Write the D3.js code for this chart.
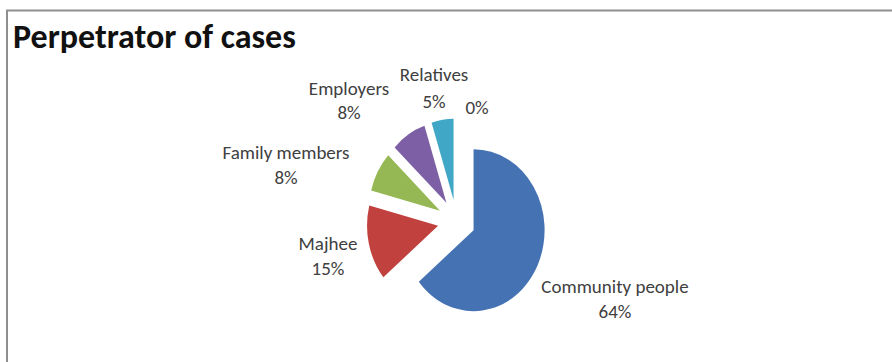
<!DOCTYPE html>
<html>
<head>
<meta charset="utf-8">
<script src="https://cdn.jsdelivr.net/npm/d3@7"></script>
<style>
  html, body { margin: 0; padding: 0; background: #fff; }
  svg { display: block; }
  text { font-family: Carlito, Calibri, Lato, "Open Sans", sans-serif; }
</style>
</head>
<body>
<svg id="chart" width="892" height="362"></svg>
<script>
// Who the perpetrators were, as a share of all cases (%)
const categories = ["Community people", "Majhee", "Family members", "Employers", "Relatives", ""];
const shares = [64, 15, 8, 8, 5, 0];
const sliceColors = ["#4572B3", "#C0413D", "#95B854", "#7D5FA5", "#40A8C6", "#F79646"];
const chartTitle = "Perpetrator of cases";

const W = 892, H = 362;
const svg = d3.select("#chart");

// frame of the chart area
svg.append("rect").attr("x", 0).attr("y", 0).attr("width", W).attr("height", H).attr("fill", "#fff");
svg.append("line").attr("x1", 6).attr("x2", W).attr("y1", 10.5).attr("y2", 10.5)
  .attr("stroke", "#8f8f8f").attr("stroke-width", 2);
svg.append("line").attr("x1", 7).attr("x2", 7).attr("y1", 10).attr("y2", H)
  .attr("stroke", "#8f8f8f").attr("stroke-width", 2);

// title
svg.append("text")
  .attr("x", 13).attr("y", 48)
  .attr("font-size", 34).attr("font-weight", "bold").attr("fill", "#111")
  .text(chartTitle);

// exploded pie, slightly narrower than tall
const cx = 456.5, cy = 221, R = 81, explode = 21.5, xScale = 0.877;
const data = categories.map((c, i) => ({ name: c, value: shares[i], color: sliceColors[i] }));
const pie = d3.pie().sort(null).value(d => d.value).startAngle(0).endAngle(2 * Math.PI);
const arcs = pie(data);
const arc = d3.arc().innerRadius(0).outerRadius(R);

const g = svg.append("g").attr("transform", `translate(${cx},${cy}) scale(${xScale},1)`);
g.selectAll("path")
  .data(arcs.filter(a => a.data.value > 0))
  .join("path")
  .attr("d", arc)
  .attr("fill", d => d.data.color)
  .attr("transform", d => {
    const mid = (d.startAngle + d.endAngle) / 2;
    return `translate(${explode * Math.sin(mid)},${-explode * Math.cos(mid)})`;
  });

// data labels: category name over percentage, placed around the pie
const labelAt = {
  0: [615, 293],
  1: [328, 250],
  2: [286, 159],
  3: [349, 95],
  4: [434, 81],
  5: [477, 114]
};
const lineGap = [25, 25, 25, 24, 27, 0];

const labels = svg.append("g").attr("fill", "#404040").attr("font-size", 19).attr("text-anchor", "middle");
arcs.forEach((a, i) => {
  const [x, y] = labelAt[i];
  const pct = Math.round(a.data.value) + "%";
  const t = labels.append("text").attr("x", x).attr("y", y);
  if (a.data.name) {
    t.append("tspan").attr("x", x).attr("y", y).text(a.data.name);
    t.append("tspan").attr("x", x).attr("y", y + lineGap[i]).text(pct);
  } else {
    t.append("tspan").attr("x", x).attr("y", y).text(pct);
  }
});
</script>
</body>
</html>
